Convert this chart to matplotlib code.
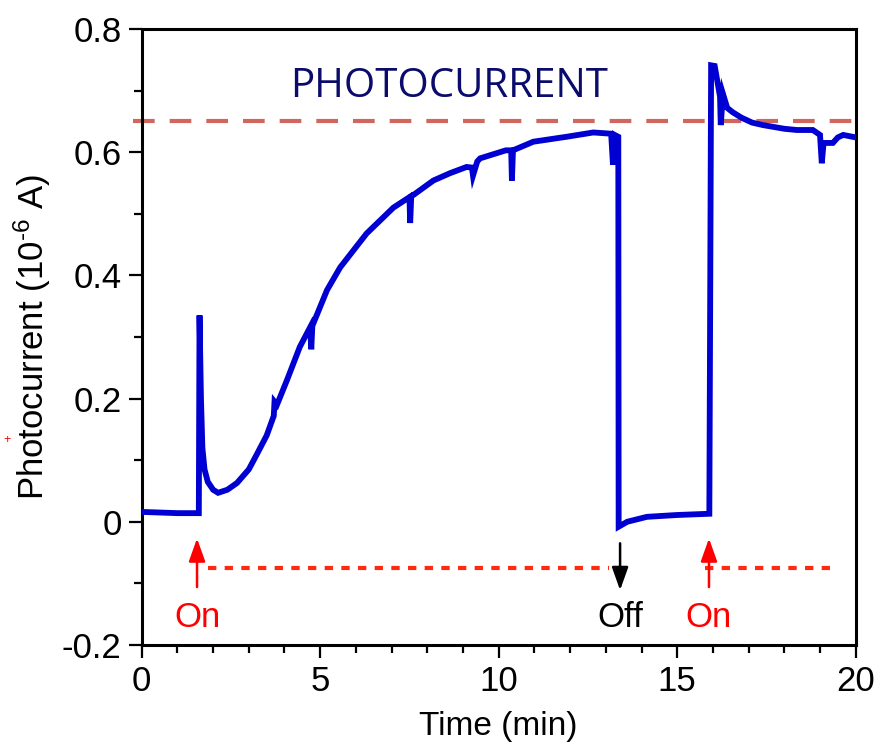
import numpy as np
import matplotlib
matplotlib.use('Agg')
import matplotlib.pyplot as plt
from matplotlib.ticker import MultipleLocator, FixedLocator, FuncFormatter

plt.rcParams['font.family'] = ['Liberation Sans', 'DejaVu Sans']
plt.rcParams['mathtext.default'] = 'regular'

# ---------------------------------------------------------------------------
# data (time in min, current in 1e-6 A)
# ---------------------------------------------------------------------------
time_min = [0.0, 0.5, 1.0, 1.6, 1.62, 1.66, 1.70, 1.76, 1.85, 2.0, 2.14, 2.4,
            2.67, 3.0, 3.23, 3.5, 3.70, 3.72, 3.79, 4.07, 4.43, 4.72, 4.75,
            4.78, 5.19, 5.56, 6.3, 7.05, 7.5, 7.52, 7.55, 8.17, 8.64, 9.1,
            9.25, 9.28, 9.4, 9.48, 10.2, 10.35, 10.37, 10.40, 10.97, 11.9,
            12.65, 13.15, 13.2, 13.25, 13.35, 13.36, 13.6, 14.15, 15.0, 15.9,
            15.95, 16.05, 16.2, 16.22, 16.28, 16.4, 16.55, 16.8, 17.1, 17.4,
            18.0, 18.35, 18.8, 19.0, 19.05, 19.1, 19.36, 19.5, 19.65, 20.0]
current = [0.016, 0.015, 0.014, 0.014, 0.335, 0.20, 0.12, 0.085, 0.065, 0.052,
           0.047, 0.052, 0.063, 0.085, 0.11, 0.14, 0.172, 0.195, 0.19, 0.23,
           0.284, 0.316, 0.28, 0.318, 0.376, 0.413, 0.468, 0.51, 0.527, 0.485,
           0.528, 0.554, 0.566, 0.576, 0.575, 0.562, 0.585, 0.59, 0.603, 0.603,
           0.554, 0.603, 0.617, 0.625, 0.632, 0.630, 0.58, 0.628, 0.625,
           -0.008, 0.0, 0.008, 0.011, 0.013, 0.741, 0.74, 0.69, 0.644, 0.695,
           0.672, 0.665, 0.656, 0.648, 0.644, 0.638, 0.636, 0.636, 0.628,
           0.582, 0.615, 0.615, 0.624, 0.628, 0.624]

saturation_level = 0.65
light_segments = [(1.86, 13.1), (15.78, 19.5)]   # dotted "light on" spans
events = [(1.55, 'On', 'up', 'red'), (13.4, 'Off', 'down', 'black'),
          (15.89, 'On', 'up', 'red')]

# ---------------------------------------------------------------------------
fig = plt.figure(figsize=(8.79, 7.49), dpi=100)
ax = fig.add_axes([0.1612, 0.1389, 0.8123, 0.8224])

ax.plot([-0.24, 20], [saturation_level] * 2, color='#d0675e', lw=3,
        dashes=(5.2, 3.6), clip_on=False, zorder=2)
ax.plot(time_min, current, color='#0000d2', lw=4.2, solid_joinstyle='miter',
        zorder=3)

for x0, x1 in light_segments:
    ax.plot([x0, x1], [-0.075, -0.075], color='#ff2a10', lw=3,
            dashes=(2, 2))

for x, label, direction, col in events:
    if direction == 'up':
        start, end = -0.106, -0.027
    else:
        start, end = -0.035, -0.111
    ax.annotate('', xy=(x, end), xytext=(x, start),
                arrowprops=dict(arrowstyle='-|>,head_width=0.5,head_length=1.4',
                                color=col, lw=1.8, shrinkA=0, shrinkB=0))
    ax.text(x, -0.156, label, color=col, fontsize=25, ha='center', va='center')

ax.text(8.62, 0.706, 'PHOTOCURRENT', color='#0b0b6b', fontsize=29,
        family=['Open Sans', 'DejaVu Sans'], ha='center', va='center')

ax.set_xlim(0, 20)
ax.set_ylim(-0.2, 0.8)
ax.xaxis.set_major_locator(MultipleLocator(5))
ax.xaxis.set_minor_locator(MultipleLocator(1))
ax.yaxis.set_major_locator(FixedLocator([-0.2, 0, 0.2, 0.4, 0.6, 0.8]))
ax.yaxis.set_minor_locator(MultipleLocator(0.1))
ax.yaxis.set_major_formatter(
    FuncFormatter(lambda v, p: '0' if abs(v) < 1e-9 else f'{v:.1f}'))

for s in ax.spines.values():
    s.set_linewidth(2.2)
ax.tick_params(which='major', length=9.5, width=1.6, labelsize=25, pad=5,
               direction='out', top=False, right=False)
ax.tick_params(which='minor', length=5.8, width=1.6, direction='out',
               top=False, right=False)

ax.set_xlabel('Time (min)', fontsize=24, labelpad=9)
ax.set_ylabel('Photocurrent (10$^{\u20106}$ A)', fontsize=25, labelpad=6)

fig.text(3 / 879, 1 - 440 / 749, '+', color='red', fontsize=9,
         ha='left', va='center')

fig.savefig('out.png', dpi=100)
